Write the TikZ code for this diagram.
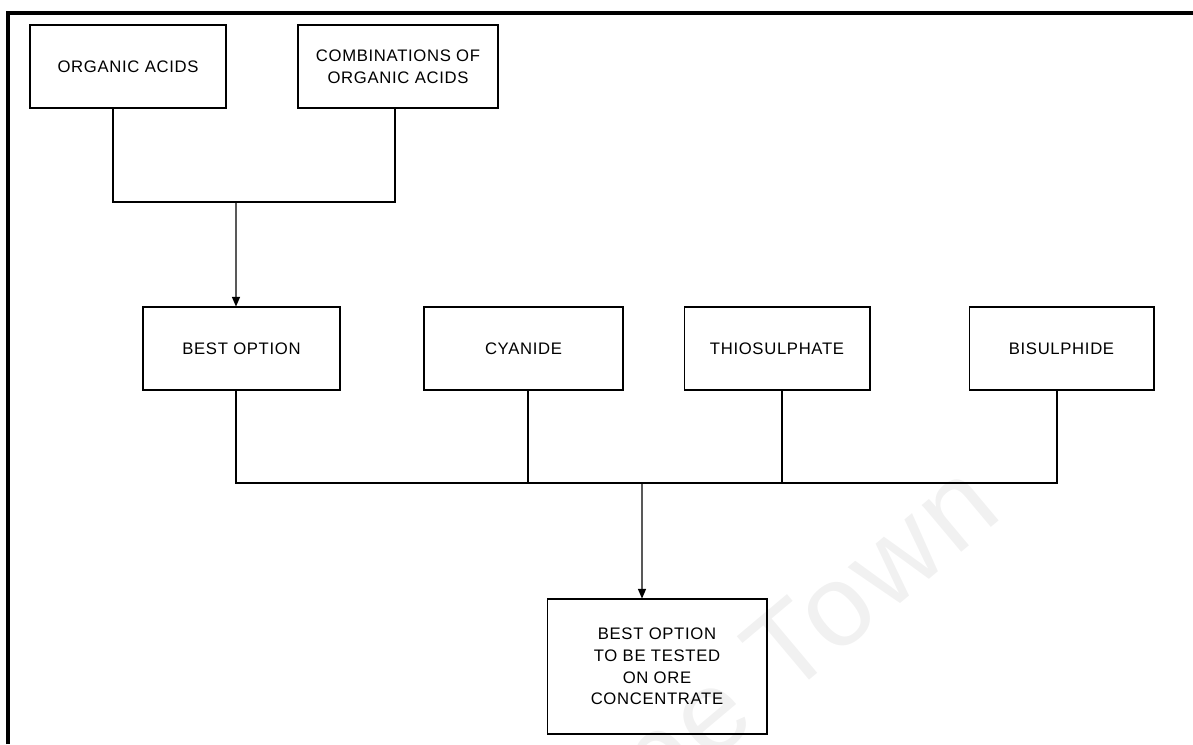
\documentclass[tikz,border=0pt]{standalone}
\usepackage{fontspec}
\setmainfont[LetterSpace=4]{Liberation Sans}
\usetikzlibrary{positioning,arrows.meta}

\begin{document}
\begin{tikzpicture}[x=0.02cm, y=-0.02cm, line width=0.6pt,
    >={Triangle[length=0.19cm,width=0.16cm]},
    box/.style={rectangle, draw, inner sep=0pt, align=center, minimum height=1.66cm, font=\fontsize{9.5}{12.4}\selectfont}]
    \useasboundingbox (0,0) rectangle (1193,744);
    % watermark
    \begin{scope}
        \clip (0,0) rectangle (1193,744);
        \node[text=gray!11, font=\fontsize{66}{66}\selectfont, rotate=40, anchor=base east] (mark) at (1010,512) {University of Cape Town};
    \end{scope}
    % frame
    \draw[line width=1.8pt] (8,744) -- (8,13) -- (1193,13);

    \node[box, minimum width=3.92cm] (OA) at (128,66.5) {ORGANIC ACIDS};
    \node[box, minimum width=4cm, right=1.42cm of OA] (CO) {COMBINATIONS OF\\ORGANIC ACIDS};

    \node[box, minimum width=3.94cm] (BO) at (241.5,348.5) {BEST OPTION};
    \node[box, minimum width=3.98cm, right=1.66cm of BO] (CY) {CYANIDE};
    \node[box, minimum width=3.72cm, right=1.2cm of CY] (TS) {THIOSULPHATE};
    \node[box, minimum width=3.7cm, right=1.96cm of TS] (BS) {BISULPHIDE};

    \node[box, minimum width=4.4cm, minimum height=2.7cm] (TE) at (657,666.5) {BEST OPTION\\TO BE TESTED\\ON ORE\\CONCENTRATE};

    \coordinate (J1) at (236,202);
    \coordinate (J2) at (642,483);
    \coordinate (cy) at ([xshift=0.09cm]CY.south);
    \coordinate (ts) at ([xshift=0.1cm]TS.south);

    \draw ([xshift=-0.3cm]OA.south) |- (J1) -| ([xshift=-0.06cm]CO.south);
    \draw[->] (J1) -- ([xshift=-0.11cm]BO.north);
    \draw ([xshift=-0.11cm]BO.south) |- (J2) -| ([xshift=-0.09cm]BS.south);
    \draw (cy) -- (cy |- J2);
    \draw (ts) -- (ts |- J2);
    \draw[->] (J2) -- ([xshift=-0.3cm]TE.north);
\end{tikzpicture}
\end{document}
